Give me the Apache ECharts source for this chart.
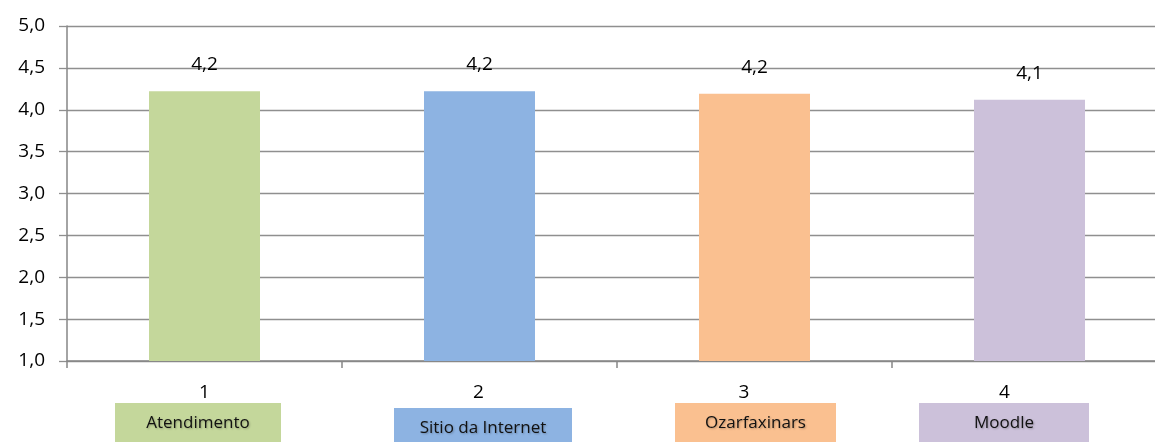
<!DOCTYPE html>
<html><head><meta charset="utf-8">
<script src="https://cdn.jsdelivr.net/npm/echarts@6/dist/echarts.min.js"></script>
<style>html,body{margin:0;padding:0;background:#fff}#c{width:1155px;height:442px}</style>
</head><body><div id="c"></div>
<script>
// ---- data ----
const categories = ['1', '2', '3', '4'];
const boxNames = ['Atendimento', 'Sitio da Internet', 'Ozarfaxinars', 'Moodle'];
const values = [4.22, 4.22, 4.19, 4.12];
const yMin = 1.0, yMax = 5.0, yStep = 0.5;

// ---- style / layout ----
const colors = ['#C4D79B', '#8DB3E2', '#FAC090', '#CCC1DA'];
const boxWidths = [166, 178, 161, 170];
const boxShift = [-6.5, 3.5, 1, -25.5];
const numShift = [0, -1, -10.5, -25];
const boxSpacer = [0, 5, 0, 0];
const FONT = "'Open Sans', 'DejaVu Sans', sans-serif";

const rich = {
  n: { fontSize: 19, lineHeight: 20, color: '#000', align: 'center', fontFamily: FONT },
  s: { fontSize: 4, lineHeight: 5, align: 'center' }
};
function padStyle(w) {
  const k = 'p' + Math.round(w * 2);
  rich[k] = { width: w, fontSize: 4, lineHeight: 4, align: 'center' };
  return k;
}
function shifted(token, shift) {
  if (Math.abs(shift) < 0.6) return token;
  const k = padStyle(Math.abs(shift) * 2);
  return shift < 0 ? token + '{' + k + '|\u00a0}' : '{' + k + '|\u00a0}' + token;
}
colors.forEach((c, i) => {
  rich['b' + i] = {
    backgroundColor: c, width: boxWidths[i], height: 40, lineHeight: 40,
    fontSize: 17, color: '#111', align: 'center', fontFamily: FONT,
    textShadowColor: 'rgba(0,0,0,0.25)', textShadowBlur: 2, textShadowOffsetX: 1, textShadowOffsetY: 1
  };
});
const labelStrings = categories.map((c, i) => {
  let s = shifted('{n|' + c + '}', numShift[i]) + '\n';
  if (boxSpacer[i]) s += '{s|\u00a0}\n';
  s += shifted('{b' + i + '|' + boxNames[i] + '}', boxShift[i]);
  return s;
});

const chart = echarts.init(document.getElementById('c'), null, { renderer: 'canvas' });
chart.setOption({
  animation: false,
  backgroundColor: '#fff',
  grid: { left: 67, right: -12, top: 26, bottom: 81, containLabel: false, outerBoundsMode: 'none' },
  xAxis: {
    type: 'category',
    data: categories,
    axisLine: { lineStyle: { color: '#868686', width: 1.5 } },
    axisTick: { show: true, length: 7, lineStyle: { color: '#868686', width: 1.5 } },
    axisLabel: {
      margin: 22,
      interval: 0,
      hideOverlap: false,
      formatter: (v, i) => labelStrings[i],
      rich: rich
    }
  },
  yAxis: {
    type: 'value',
    min: yMin, max: yMax, interval: yStep,
    axisLine: { show: true, lineStyle: { color: '#868686', width: 1.5 } },
    axisTick: { show: true, length: 8, lineStyle: { color: '#8f8f8f', width: 1.3 } },
    splitLine: { lineStyle: { color: '#8f8f8f', width: 1.3 } },
    axisLabel: {
      margin: 22, fontSize: 19, color: '#000', fontFamily: FONT,
      formatter: v => v.toFixed(1).replace('.', ',')
    }
  },
  series: [{
    type: 'bar',
    barWidth: 111,
    data: values.map((v, i) => ({ value: v, itemStyle: { color: colors[i] } })),
    label: {
      show: true, position: 'top', distance: 17,
      fontSize: 19, color: '#000', fontFamily: FONT,
      formatter: p => p.value.toFixed(1).replace('.', ',')
    }
  }]
});
</script></body></html>
